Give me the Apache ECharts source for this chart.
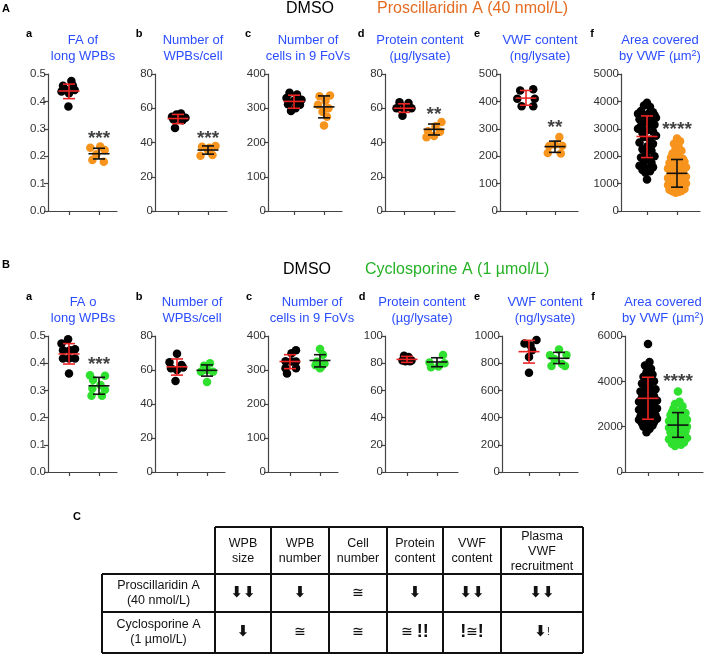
<!DOCTYPE html>
<html><head><meta charset="utf-8">
<script src="https://cdn.jsdelivr.net/npm/echarts@6/dist/echarts.min.js"></script>
<style>html,body{margin:0;padding:0;background:#fff}#c{width:709px;height:656px}</style>
</head><body><div id="c"></div>
<script>
const FONT = '"Liberation Sans", Arial, Helvetica, sans-serif';
const BLUE = '#2b4dff', RED = '#ec2424', ORANGE = '#f7941d', ORANGE_T = '#e46c22', GREEN = '#2fe02f', GREEN_T = '#26b226';

// ================= DATA: panel A (DMSO vs Proscillaridin A) =================
// points as [x-jitter, value]
const A_fa_dmso = [[0.08,0.474],[-0.2,0.457],[0.13,0.458],[-0.1,0.442],[0.19,0.442],[-0.25,0.436],[0,0.43],[-0.02,0.381]];
const A_fa_pros = [[-0.29,0.231],[0.04,0.235],[0.19,0.223],[-0.09,0.207],[-0.22,0.186],[0.16,0.18]];
const A_num_dmso = [[0.1,57],[-0.05,56.3],[-0.2,55],[0.25,54.5],[0,54],[-0.15,53.5],[0.15,53],[-0.1,48.5]];
const A_num_pros = [[-0.2,37.5],[0.25,38],[0.05,37],[0,35.5],[-0.25,32.3],[0.15,32.7]];
const A_cells_dmso = [[-0.15,345],[0.1,340],[-0.25,330],[0.25,325],[0,322],[-0.2,312],[0.2,310],[0.05,300],[-0.1,292]];
const A_cells_pros = [[-0.15,335],[0.2,337],[0.05,322],[-0.2,310],[0.15,300],[-0.05,290],[0.1,275],[0,250]];
const A_prot_dmso = [[-0.15,63.5],[0.15,63],[-0.25,60],[0.25,60],[0,59.5],[-0.05,55.6]];
const A_prot_pros = [[0.25,52],[0.05,49.5],[0.2,46.3],[-0.2,46.5],[-0.25,43],[0,43.8]];
const A_vwf_dmso = [[-0.2,440],[0.25,444],[-0.3,410],[0.3,410],[-0.15,382],[0.25,382]];
const A_vwf_pros = [[0.15,270],[0.25,238],[-0.2,237],[0,243],[-0.25,212],[0.2,210]];
const A_area_dmso = [[0,3950],[-0.1,3850],[0.1,3800],[-0.2,3650],[0.2,3600],[-0.3,3550],[0.25,3500],[0.05,3550],[-0.15,3450],[0.3,3400],[-0.25,3350],[0.15,3300],[-0.05,3250],[0.25,3150],[-0.2,3100],[0.1,3050],[-0.3,3000],[0,2950],[0.2,2900],[-0.15,2850],[0.3,2750],[-0.1,2700],[0.1,2600],[-0.25,2500],[0.2,2450],[0,2350],[-0.15,2250],[0.15,2200],[-0.05,2100],[0.25,2000],[-0.2,1950],[0.05,1900],[-0.1,1800],[0.15,1750],[-0.25,1650],[0.2,1600],[0,1550],[-0.15,1500],[0.1,1450],[-0.05,1400],[0,1150]];
const A_area_pros = [[0,2650],[0.1,2550],[-0.1,2450],[0.05,2350],[-0.05,2250],[0.15,2200],[-0.15,2100],[0.05,2000],[-0.2,1950],[0.2,1900],[-0.05,1850],[0.25,1800],[-0.25,1750],[0.1,1700],[-0.1,1650],[0.3,1600],[-0.3,1550],[0,1500],[0.2,1450],[-0.2,1400],[0.1,1350],[-0.1,1300],[0.3,1250],[-0.3,1200],[0,1200],[0.2,1150],[-0.2,1100],[0.1,1050],[-0.1,1000],[0.3,1000],[-0.3,950],[0,950],[0.2,900],[-0.2,880],[0.1,850],[-0.1,820],[0.25,800],[-0.25,780],[0,760],[0.15,730],[-0.15,720],[0.05,690],[-0.05,670]];
// summary bars: [mean, low, high]
const A_stats_dmso = [[0.438,0.41,0.463],[54,51,56.4],[320,300,338],[60,57.6,62.6],[412,386,440],[2720,1950,3470]];
const A_stats_pros = [[0.209,0.19,0.229],[35.6,33.2,38],[304,272,336],[47.7,44.4,50.8],[235,214,255],[1375,870,1880]];
const A_yMax = [0.5,80,400,80,500,5000];
const A_yStep = [0.1,20,100,20,100,1000];
const A_stars = ['***','***','','**','**','****'];
const A_starY = [0.262,42,0,56,305,2950];

// ================= DATA: panel B (DMSO vs Cyclosporine A) =================
const B_fa_dmso = [[-0.03,0.488],[-0.25,0.472],[0.2,0.451],[-0.2,0.448],[0.03,0.448],[0,0.417],[-0.2,0.417],[0.2,0.417],[0,0.362]];
const B_fa_cyc = [[-0.3,0.356],[0.2,0.354],[-0.2,0.338],[0.05,0.32],[-0.22,0.307],[0.2,0.302],[-0.25,0.28],[0.1,0.28]];
const B_num_dmso = [[0,69.5],[-0.25,64.5],[0.15,63],[-0.2,61],[0.2,61.5],[0,60],[-0.05,53.5]];
const B_num_cyc = [[0.1,64],[-0.1,62.5],[0,60],[0.2,59],[-0.2,59],[0,53]];
const B_cells_dmso = [[0.2,358],[0.05,349],[-0.15,326],[0.2,325],[0.05,325],[-0.15,305],[0.2,305],[-0.1,290]];
const B_cells_cyc = [[0,362],[0.1,345],[-0.1,324],[0.15,319],[-0.15,314],[0.05,310],[0,305]];
const B_prot_dmso = [[-0.1,85.5],[0.05,84.5],[-0.15,82],[0.15,82],[0,82.5],[0.1,81.5],[-0.05,81.5]];
const B_prot_cyc = [[0.2,86],[-0.25,80.5],[0.25,80],[-0.2,77],[0.05,77.5]];
const B_vwf_dmso = [[0.25,970],[-0.15,945],[0.05,930],[0.1,895],[0,845],[0,730]];
const B_vwf_cyc = [[0,900],[-0.3,858],[0.25,860],[-0.15,830],[0.1,795],[-0.25,780],[0.2,780]];
const B_area_dmso = [[0,5650],[0.05,4850],[-0.1,4700],[0.1,4550],[-0.05,4400],[0.15,4300],[-0.15,4200],[0,4100],[0.2,4000],[-0.2,3900],[0.05,3800],[-0.1,3700],[0.25,3650],[-0.25,3550],[0.1,3500],[-0.05,3400],[0.2,3350],[-0.2,3300],[0,3250],[0.3,3150],[-0.3,3100],[0.1,3050],[-0.1,3000],[0.2,2950],[-0.2,2900],[0.05,2850],[0.3,2800],[-0.3,2750],[-0.05,2700],[0.15,2650],[-0.15,2600],[0.25,2500],[-0.25,2450],[0,2400],[0.3,2350],[-0.3,2300],[0.1,2250],[-0.1,2250],[0.2,2200],[-0.2,2150],[0,2100],[0.15,2050],[-0.15,2000],[0.05,1900],[-0.05,1750]];
const B_area_cyc = [[0,3550],[0.05,3100],[-0.1,3000],[0.15,2900],[-0.15,2800],[0.1,2700],[-0.2,2650],[0.25,2600],[0,2550],[-0.25,2500],[0.2,2400],[-0.1,2350],[0.3,2300],[-0.3,2250],[0.05,2200],[0.2,2150],[-0.2,2100],[0,2050],[0.3,2000],[-0.3,1950],[0.1,1900],[-0.1,1850],[0.25,1800],[-0.25,1750],[0,1700],[0.15,1600],[-0.15,1550],[0.3,1500],[-0.3,1450],[0.05,1400],[-0.05,1350],[0.2,1300],[-0.2,1250],[0.1,1200],[-0.1,1150]];
const B_stats_dmso = [[0.434,0.397,0.472],[61.9,57,66.5],[325,304,345],[82.8,80.6,85],[885,801,968],[3250,2330,4180]];
const B_stats_cyc = [[0.317,0.286,0.348],[59.8,56.4,63],[328,309,345],[80.9,77.4,84],[836,797,880],[2070,1530,2620]];
const B_yMax = [0.5,80,400,100,1000,6000];
const B_yStep = [0.1,20,100,20,200,2000];
const B_stars = ['***','','','','','****'];
const B_starY = [0.395,0,0,0,0,4000];

// ================= Titles & table text =================
const panelLetters = ['a','b','c','d','e','f'];
const A_titles = [['FA of','long WPBs'],['Number of','WPBs/cell'],['Number of','cells in 9 FoVs'],['Protein content','(µg/lysate)'],['VWF content','(ng/lysate)'],['Area covered','by VWF (µm{s|2})']];
const B_titles = [['FA o','long WPBs'],['Number of','WPBs/cell'],['Number of','cells in 9 FoVs'],['Protein content','(µg/lysate)'],['VWF content','(ng/lysate)'],['Area covered','by VWF (µm{s|2})']];
const tableHeaders = [['WPB','size'],['WPB','number'],['Cell','number'],['Protein','content'],['VWF','content'],['Plasma','VWF','recruitment']];
const tableRowLabels = [['Proscillaridin A','(40 nmol/L)'],['Cyclosporine A','(1 µmol/L)']];
const tableCells = [
  ['{a|⬇⬇}','{a|⬇}','{n|≅}','{a|⬇}','{a|⬇⬇}','{a|⬇⬇}'],
  ['{a|⬇}','{n|≅}','{n|≅}','{n|≅} {b|!!}','{b|!}{n|≅}{b|!}','{a|⬇}{s|!}']
];

// ================= Layout (pixels) =================
const A_layout = [[48,69,99,117],[155,178,208,227],[268,294,324,342],[385,404,434,455],[500,526,555,578],[621,647,677,700]];
const B_layout = [[48,69,99,117],[155,177,207,225],[268,290,320,338],[385,407,437,458],[502,529,559,578],[625,648,678,703]];
const A_top = 74, A_h = 137, B_top = 336, B_h = 136;
const A_titleX = [83,193,308,420,540,660], B_titleX = [83,192,312,422,545,663];
const A_letterX = [29,139,248,361,477,592], B_letterX = [29,139,249,362,477,593];

const A_groups = [[A_fa_dmso,A_fa_pros],[A_num_dmso,A_num_pros],[A_cells_dmso,A_cells_pros],[A_prot_dmso,A_prot_pros],[A_vwf_dmso,A_vwf_pros],[A_area_dmso,A_area_pros]];
const B_groups = [[B_fa_dmso,B_fa_cyc],[B_num_dmso,B_num_cyc],[B_cells_dmso,B_cells_cyc],[B_prot_dmso,B_prot_cyc],[B_vwf_dmso,B_vwf_cyc],[B_area_dmso,B_area_cyc]];

const grid = [], xAxis = [], yAxis = [], series = [], graphic = [];

function errRender(params, api) {
  const x = api.value(0), m = api.value(1), lo = api.value(2), hi = api.value(3), ci = api.value(4);
  const pm = api.coord([x, m]), pl = api.coord([x, lo]), ph = api.coord([x, hi]);
  const col = ci === 0 ? RED : '#111';
  const lw = 1.6, hw = 10.5, cw = 6;
  const st = {stroke: col, lineWidth: lw};
  return {type: 'group', children: [
    {type: 'line', shape: {x1: pm[0], y1: ph[1], x2: pm[0], y2: pl[1]}, style: st},
    {type: 'line', shape: {x1: pm[0]-cw, y1: ph[1], x2: pm[0]+cw, y2: ph[1]}, style: st},
    {type: 'line', shape: {x1: pm[0]-cw, y1: pl[1], x2: pm[0]+cw, y2: pl[1]}, style: st},
    {type: 'line', shape: {x1: pm[0]-hw, y1: pm[1], x2: pm[0]+hw, y2: pm[1]}, style: st}
  ]};
}

function addRow(layout, top, h, groups, statsD, statsT, yMax, yStep, stars, starY, treatColor) {
  layout.forEach((L, i) => {
    const gi = grid.length;
    const sp = L[2] - L[1];
    grid.push({left: L[0], top: top, width: L[3] - L[0], height: h, containLabel: false});
    xAxis.push({type: 'value', gridIndex: gi, min: 1 - (L[1]-L[0])/sp, max: 2 + (L[3]-L[2])/sp,
      axisLine: {show: true, onZero: false, lineStyle: {color: '#444', width: 1.2}},
      axisTick: {show: true, customValues: [1, 2], length: 4, lineStyle: {color: '#444', width: 1.2}},
      axisLabel: {show: false}, splitLine: {show: false}});
    const dec = yStep[i] < 1;
    yAxis.push({type: 'value', gridIndex: gi, min: 0, max: yMax[i], interval: yStep[i],
      axisLine: {show: true, lineStyle: {color: '#444', width: 1.2}},
      axisTick: {show: true, length: 4, lineStyle: {color: '#444', width: 1.2}},
      axisLabel: {color: '#333', fontSize: 11.5, fontFamily: FONT, margin: 2,
        formatter: v => dec ? v.toFixed(1) : String(Math.round(v))},
      splitLine: {show: false}});
    const [gD, gT] = groups[i];
    series.push({type: 'scatter', xAxisIndex: gi, yAxisIndex: gi, symbolSize: 8.5, silent: true,
      itemStyle: {color: '#000', opacity: 1}, data: gD.map(p => [1 + p[0], p[1]]), z: 2});
    series.push({type: 'scatter', xAxisIndex: gi, yAxisIndex: gi, symbolSize: 8.5, silent: true,
      itemStyle: {color: treatColor, opacity: 1}, data: gT.map(p => [2 + p[0], p[1]]), z: 2});
    series.push({type: 'custom', xAxisIndex: gi, yAxisIndex: gi, renderItem: errRender, clip: false, silent: true, z: 3,
      encode: {x: 0, y: [1, 2, 3]},
      data: [[1, statsD[i][0], statsD[i][1], statsD[i][2], 0], [2, statsT[i][0], statsT[i][1], statsT[i][2], 1]]});
    if (stars[i]) {
      series.push({type: 'scatter', xAxisIndex: gi, yAxisIndex: gi, symbolSize: 1, silent: true, z: 4,
        itemStyle: {color: 'rgba(0,0,0,0)'},
        label: {show: true, position: 'inside', formatter: stars[i], color: '#111', fontSize: 19, fontWeight: 'bold', fontFamily: FONT},
        data: [[2, starY[i]]]});
    }
  });
}
addRow(A_layout, A_top, A_h, A_groups, A_stats_dmso, A_stats_pros, A_yMax, A_yStep, A_stars, A_starY, ORANGE);
addRow(B_layout, B_top, B_h, B_groups, B_stats_dmso, B_stats_cyc, B_yMax, B_yStep, B_stars, B_starY, GREEN);

function txt(x, y, text, o) {
  graphic.push({type: 'text', x: x, y: y, silent: true,
    style: Object.assign({text: text, fill: '#000', fontFamily: FONT, fontSize: 13, align: 'center', verticalAlign: 'middle'}, o || {})});
}
function line(x1, y1, x2, y2, w) {
  graphic.push({type: 'line', silent: true, shape: {x1, y1, x2, y2}, style: {stroke: '#111', lineWidth: w || 2}});
}
const supRich = {s: {fontSize: 9, fontFamily: FONT, fill: BLUE, verticalAlign: 'top', lineHeight: 9}};

// section headers
txt(2, 9, 'A', {align: 'left', fontSize: 11, fontWeight: 'bold'});
txt(310, 9, 'DMSO', {fontSize: 16});
txt(377, 9, 'Proscillaridin A (40 nmol/L)', {align: 'left', fontSize: 16, fill: ORANGE_T});
txt(2, 265, 'B', {align: 'left', fontSize: 11, fontWeight: 'bold'});
txt(307, 270, 'DMSO', {fontSize: 16});
txt(365, 270, 'Cyclosporine A (1 µmol/L)', {align: 'left', fontSize: 16, fill: GREEN_T});
txt(73, 517, 'C', {align: 'left', fontSize: 11, fontWeight: 'bold'});

// panel letters & titles
panelLetters.forEach((l, i) => {
  txt(A_letterX[i], 34, l, {fontSize: 11, fontWeight: 'bold'});
  txt(B_letterX[i], 297, l, {fontSize: 11, fontWeight: 'bold'});
  txt(A_titleX[i], 40, A_titles[i][0], {fill: BLUE});
  txt(A_titleX[i], 56, A_titles[i][1], {fill: BLUE, rich: supRich});
  txt(B_titleX[i], 302, B_titles[i][0], {fill: BLUE});
  txt(B_titleX[i], 318, B_titles[i][1], {fill: BLUE, rich: supRich});
});

// table C
const colX = [102, 215, 271, 329, 387, 443, 501, 583];
const rowY = [527, 574, 612, 653];
line(colX[1], rowY[0], colX[7], rowY[0]);
for (let r = 1; r < rowY.length; r++) line(colX[0], rowY[r], colX[7], rowY[r]);
line(colX[0], rowY[1], colX[0], rowY[3]);
for (let c = 1; c < colX.length; c++) line(colX[c], rowY[0], colX[c], rowY[3]);
tableHeaders.forEach((h, c) => {
  txt((colX[c+1] + colX[c+2]) / 2, (rowY[0] + rowY[1]) / 2 + 1, h.join('\n'), {fontSize: 12.5, lineHeight: 15, fill: '#111'});
});
const cellRich = {
  a: {fontSize: 15, fontWeight: 'bold', fontFamily: '"DejaVu Sans", sans-serif', fill: '#111'},
  n: {fontSize: 14, fontFamily: '"DejaVu Sans", sans-serif', fill: '#111'},
  b: {fontSize: 18, fontWeight: 'bold', fontFamily: FONT, fill: '#111'},
  s: {fontSize: 10, fontFamily: FONT, fill: '#111'}
};
tableRowLabels.forEach((lab, r) => {
  txt((colX[0] + colX[1]) / 2, (rowY[r+1] + rowY[r+2]) / 2, lab.join('\n'), {fontSize: 12.5, lineHeight: 15, fill: '#111'});
  tableCells[r].forEach((cell, c) => {
    txt((colX[c+1] + colX[c+2]) / 2, (rowY[r+1] + rowY[r+2]) / 2, cell, {rich: cellRich});
  });
});

const chart = echarts.init(document.getElementById('c'), null, {renderer: 'canvas'});
chart.setOption({animation: false, backgroundColor: '#fff', grid, xAxis, yAxis, series, graphic});
</script></body></html>
